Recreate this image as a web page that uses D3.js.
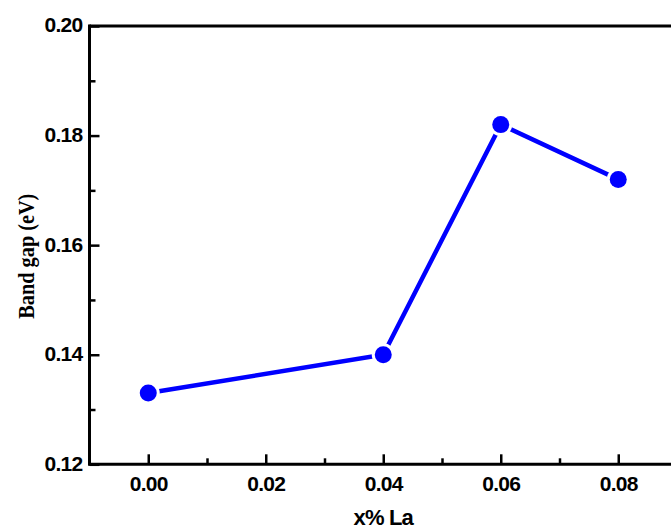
<!DOCTYPE html>
<html>
<head>
<meta charset="utf-8">
<script src="https://cdn.jsdelivr.net/npm/d3@7"></script>
<style>
  body { margin: 0; background: #fff; }
  svg { display: block; }
</style>
</head>
<body>
<script>
// data
var laContent = [0.00, 0.04, 0.06, 0.08];
var bandGap = [0.133, 0.140, 0.182, 0.172];

var xMajorTicks = [0.00, 0.02, 0.04, 0.06, 0.08];
var xMinorTicks = [0.01, 0.03, 0.05, 0.07];
var yMajorTicks = [0.12, 0.14, 0.16, 0.18, 0.20];
var yMinorTicks = [0.13, 0.15, 0.17, 0.19];

var width = 671, height = 529;

var x = d3.scaleLinear().domain([-0.01, 0.09]).range([89.5, 677]);
var y = d3.scaleLinear().domain([0.12, 0.20]).range([464.3, 26]);

var svg = d3.select('body').append('svg')
  .attr('width', width)
  .attr('height', height);

var tickFont = 'Liberation Sans, Arial, sans-serif';

// frame: top and right edges
svg.append('line')
  .attr('x1', x(-0.01)).attr('x2', x(0.09))
  .attr('y1', y(0.20)).attr('y2', y(0.20))
  .attr('stroke', '#000').attr('stroke-width', 3);
svg.append('line')
  .attr('x1', x(0.09)).attr('x2', x(0.09))
  .attr('y1', y(0.20)).attr('y2', y(0.12))
  .attr('stroke', '#000').attr('stroke-width', 3);

// minor ticks (inward)
var xMinor = svg.append('g')
  .attr('transform', 'translate(0,' + y(0.12) + ')')
  .call(d3.axisBottom(x).tickValues(xMinorTicks).tickSize(-6).tickFormat(''));
var yMinor = svg.append('g')
  .attr('transform', 'translate(' + x(-0.01) + ',0)')
  .call(d3.axisLeft(y).tickValues(yMinorTicks).tickSize(-6).tickFormat(''));

// major ticks with labels
var xAxis = svg.append('g')
  .attr('transform', 'translate(0,' + y(0.12) + ')')
  .call(d3.axisBottom(x).tickValues(xMajorTicks).tickSizeInner(-10).tickSizeOuter(0)
    .tickPadding(12).tickFormat(d3.format('.2f')));
var yAxis = svg.append('g')
  .attr('transform', 'translate(' + x(-0.01) + ',0)')
  .call(d3.axisLeft(y).tickValues(yMajorTicks).tickSizeInner(-10).tickSizeOuter(0)
    .tickPadding(7).tickFormat(d3.format('.2f')));

[xMinor, yMinor, xAxis, yAxis].forEach(function(g) {
  g.selectAll('.domain').remove();
  g.selectAll('.tick line').attr('stroke', '#000').attr('stroke-width', 2.5);
  g.selectAll('.tick text')
    .attr('fill', '#000')
    .style('font-family', tickFont)
    .style('font-weight', 'bold')
    .style('font-size', '21px')
    .style('letter-spacing', '-0.7px');
});
yAxis.selectAll('.tick text').attr('x', -7).attr('dy', '0.28em');

// axis lines
svg.append('line')
  .attr('x1', x(-0.01)).attr('x2', x(0.09))
  .attr('y1', y(0.12)).attr('y2', y(0.12))
  .attr('stroke', '#000').attr('stroke-width', 3);
svg.append('line')
  .attr('x1', x(-0.01)).attr('x2', x(-0.01))
  .attr('y1', y(0.20) - 1.5).attr('y2', y(0.12) + 1.5)
  .attr('stroke', '#000').attr('stroke-width', 3);

// axis titles
svg.append('text')
  .attr('x', x(0.04)).attr('y', 525)
  .attr('text-anchor', 'middle')
  .style('font-family', tickFont)
  .style('font-weight', 'bold')
  .style('font-size', '22px')
  .style('letter-spacing', '-0.8px')
  .text('x% La');

svg.append('text')
  .attr('transform', 'translate(34,' + ((y(0.12) + y(0.20)) / 2 + 11) + ') rotate(-90)')
  .attr('text-anchor', 'middle')
  .attr('textLength', 125)
  .attr('lengthAdjust', 'spacingAndGlyphs')
  .style('font-family', 'Liberation Serif, Times New Roman, serif')
  .style('font-weight', 'bold')
  .style('font-size', '23px')
  .text('Band gap (eV)');

// series
var points = laContent.map(function(d, i) { return { x: d, y: bandGap[i] }; });

var line = d3.line()
  .x(function(d) { return x(d.x); })
  .y(function(d) { return y(d.y); });

svg.append('path')
  .datum(points)
  .attr('d', line)
  .attr('fill', 'none')
  .attr('stroke', '#0000ff')
  .attr('stroke-width', 4.5)
  .attr('stroke-linecap', 'round');

// white halo gives the gap between line and marker
svg.selectAll('circle.halo')
  .data(points)
  .enter().append('circle')
  .attr('class', 'halo')
  .attr('cx', function(d) { return x(d.x); })
  .attr('cy', function(d) { return y(d.y); })
  .attr('r', 11.5)
  .attr('fill', '#fff');

svg.selectAll('circle.dot')
  .data(points)
  .enter().append('circle')
  .attr('class', 'dot')
  .attr('cx', function(d) { return x(d.x); })
  .attr('cy', function(d) { return y(d.y); })
  .attr('r', 8.5)
  .attr('fill', '#0000ff');
</script>
</body>
</html>
